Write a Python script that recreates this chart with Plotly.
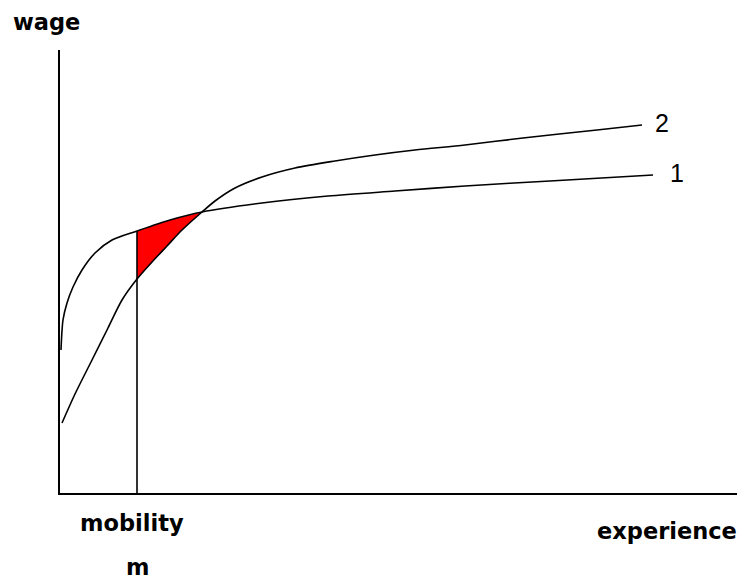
import plotly.graph_objects as go

# Curve 1: wage profile with steep early growth (label "1")
exp1 = [1, 3, 7, 13, 22, 35, 52, 77, 110, 142, 202, 268, 335, 405, 490, 593]
wage1 = [143, 173, 190, 206, 223, 240, 253, 262, 273, 281, 290, 297, 302, 307, 312, 318]

# Curve 2: wage profile with slower start, higher later (label "2")
exp2 = [2, 15, 32, 48, 62, 77, 92, 107, 122, 142, 155, 175, 202, 235, 275, 315, 355, 405, 463, 537, 582]
wage2 = [70, 99, 133, 165, 193, 214, 231, 247, 263, 281, 292, 305, 316, 325, 332, 338, 343, 348, 355, 363, 368]

# Mobility point and crossing of the two profiles
mobility_x = 77
cross_x = 142
curve_labels = ["1", "2"]
axis_labels = ["wage", "experience", "mobility", "m"]

XR = [0, 677]
YR = [0, 443]

fig = go.Figure()

seg1_x = [x for x in exp1 if mobility_x <= x <= cross_x]
seg1_y = [y for x, y in zip(exp1, wage1) if mobility_x <= x <= cross_x]
seg2_x = [x for x in exp2 if mobility_x <= x <= cross_x]
seg2_y = [y for x, y in zip(exp2, wage2) if mobility_x <= x <= cross_x]
fig.add_trace(go.Scatter(
    x=seg1_x + seg2_x[::-1], y=seg1_y + seg2_y[::-1],
    fill="toself", fillcolor="#ff0000", mode="lines",
    line=dict(color="#ff0000", width=0), hoverinfo="skip"))

fig.add_trace(go.Scatter(x=exp1, y=wage1, mode="lines",
                         line=dict(color="black", width=1.6, shape="spline", smoothing=0.8)))
fig.add_trace(go.Scatter(x=exp2, y=wage2, mode="lines",
                         line=dict(color="black", width=1.6, shape="spline", smoothing=0.8)))

m_wage = wage1[exp1.index(mobility_x)]
fig.add_trace(go.Scatter(x=[mobility_x, mobility_x], y=[0, m_wage], mode="lines",
                         line=dict(color="black", width=1.6)))

bold = dict(family="DejaVu Sans", size=22.5, color="black", weight="bold")
num = dict(family="Liberation Sans", size=25, color="black")

def ann(x, y, text, font):
    return dict(x=x / XR[1], y=y / YR[1], xref="paper", yref="paper", text=text,
                font=font, showarrow=False, xanchor="center", yanchor="middle")

anns = [
    ann(-14, 471, axis_labels[0], bold),
    ann(607, -38, axis_labels[1], bold),
    ann(72, -30, axis_labels[2], bold),
    ann(77, -74, axis_labels[3], bold),
    ann(617, 320, curve_labels[0], num),
    ann(602, 370, curve_labels[1], num),
]

fig.update_layout(
    width=745, height=585,
    margin=dict(l=52, r=16, t=42, b=100),
    paper_bgcolor="white", plot_bgcolor="white",
    showlegend=False,
    annotations=anns,
    xaxis=dict(range=XR, showgrid=False, zeroline=False, showticklabels=False,
               ticks="", showline=True, linecolor="black", linewidth=2),
    yaxis=dict(range=YR, showgrid=False, zeroline=False, showticklabels=False,
               ticks="", showline=True, linecolor="black", linewidth=2),
)

fig.write_html("out.html")
